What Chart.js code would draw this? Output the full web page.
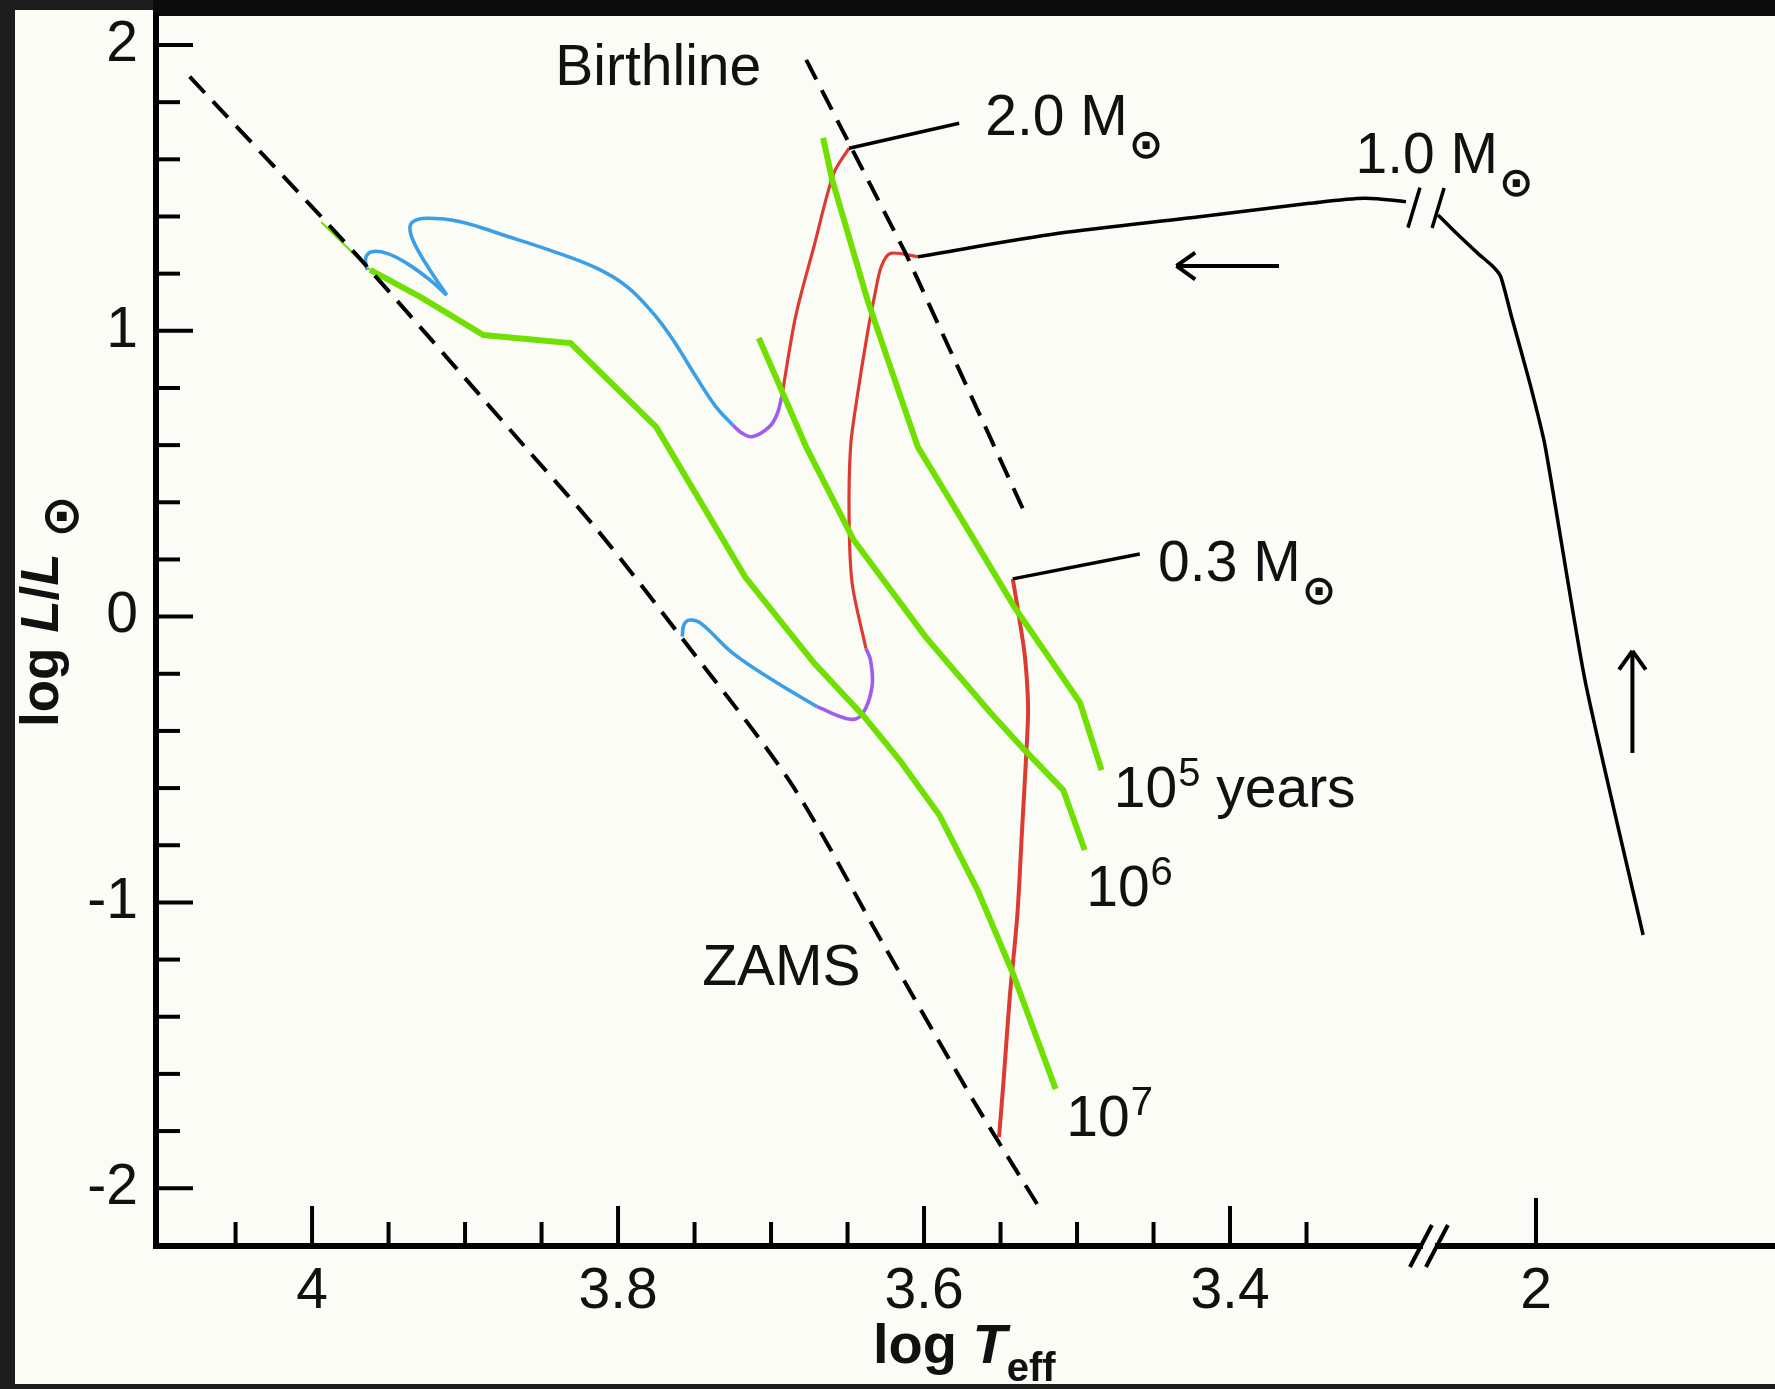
<!DOCTYPE html>
<html>
<head>
<meta charset="utf-8">
<script src="https://cdn.jsdelivr.net/npm/chart.js@4.4.0/dist/chart.umd.min.js"></script>
<style>
  html, body { margin: 0; padding: 0; background: #1d1d1d; }
  #wrap { width: 1775px; height: 1389px; }
</style>
</head>
<body>
<div id="wrap"><canvas id="hrChart" width="1775" height="1389"></canvas></div>
<script>
// log Teff left of the axis break is real; values right of it (< 3) are shifted by BREAK_SHIFT
const BREAK_SHIFT = 1.2;
const AXIS_BREAK = 3.27;

const xTickValues = [4, 3.8, 3.6, 3.4, 2];
const xTickLabels = ['4', '3.8', '3.6', '3.4', '2'];
const yTickValues = [2, 1, 0, -1, -2];
const yTickLabels = ['2', '1', '0', '-1', '-2'];

// zero-age main sequence and birthline
const zamsT = [4.080, 3.994, 3.964, 3.861, 3.812, 3.759, 3.687, 3.627, 3.568, 3.525];
const zamsL = [1.889, 1.399, 1.224, 0.595, 0.293, -0.070, -0.583, -1.143, -1.691, -2.065];
const birthT = [3.677, 3.649, 3.612, 3.534];
const birthL = [1.948, 1.656, 1.271, 0.361];

// 2.0 Msun track
const m20RedT = [3.649, 3.659, 3.672, 3.684, 3.693];
const m20RedL = [1.639, 1.551, 1.294, 1.049, 0.769];
const m20PurpleT = [3.693, 3.696, 3.701, 3.712, 3.719, 3.725];
const m20PurpleL = [0.769, 0.709, 0.665, 0.630, 0.642, 0.670];
const m20BlueT = [3.725, 3.736, 3.749, 3.764, 3.777, 3.794, 3.814, 3.842, 3.875, 3.903, 3.925, 3.934, 3.936, 3.932, 3.923, 3.912];
const m20BlueL = [0.670, 0.734, 0.839, 0.968, 1.061, 1.154, 1.219, 1.277, 1.335, 1.382, 1.394, 1.382, 1.353, 1.294, 1.213, 1.125];
const m20HookT = [3.912, 3.923, 3.938, 3.951, 3.961, 3.965, 3.964];
const m20HookL = [1.125, 1.178, 1.236, 1.271, 1.277, 1.254, 1.213];

// 1.0 Msun track (protostellar part in black, broken axis on the right)
const m10AccT = [3.604, 3.512, 3.420, 3.348, 3.312, 3.285];
const m10AccL = [1.259, 1.341, 1.399, 1.446, 1.464, 1.452];
const m10FarT = [2.064, 2.052, 2.038, 2.028, 2.023, 2.016, 2.004, 1.994, 1.968, 1.930];
const m10FarL = [1.405, 1.341, 1.271, 1.224, 1.189, 1.049, 0.816, 0.595, -0.222, -1.114];
const m10RedT = [3.604, 3.622, 3.628, 3.632, 3.637, 3.644, 3.648, 3.649, 3.647, 3.638];
const m10RedL = [1.259, 1.271, 1.224, 1.131, 0.991, 0.758, 0.595, 0.350, 0.117, -0.111];
const m10PurpleT = [3.638, 3.635, 3.634, 3.640, 3.648, 3.670];
const m10PurpleL = [-0.111, -0.152, -0.245, -0.338, -0.359, -0.315];
const m10BlueT = [3.670, 3.699, 3.725, 3.746, 3.753, 3.757, 3.758];
const m10BlueL = [-0.315, -0.222, -0.128, -0.023, -0.012, -0.029, -0.070];

// 0.3 Msun track
const m03RedT = [3.542, 3.538, 3.534, 3.532, 3.533, 3.536, 3.539, 3.544, 3.548, 3.551];
const m03RedL = [0.132, 0.002, -0.143, -0.317, -0.463, -0.753, -1.043, -1.333, -1.623, -1.821];

// isochrones
const iso5T = [3.666, 3.660, 3.637, 3.622, 3.604, 3.583, 3.570, 3.541, 3.498, 3.484];
const iso5L = [1.675, 1.528, 1.108, 0.873, 0.593, 0.408, 0.293, 0.034, -0.302, -0.537];
const iso6T = [3.708, 3.694, 3.677, 3.646, 3.599, 3.557, 3.535, 3.509, 3.495];
const iso6L = [0.975, 0.803, 0.593, 0.268, -0.071, -0.334, -0.463, -0.607, -0.817];
const iso7T = [3.962, 3.929, 3.888, 3.831, 3.775, 3.717, 3.672, 3.639, 3.616, 3.590, 3.565, 3.542, 3.514];
const iso7L = [1.213, 1.118, 0.985, 0.957, 0.663, 0.139, -0.162, -0.351, -0.502, -0.694, -0.957, -1.247, -1.653];
const iso7TailT = [3.994, 3.962];
const iso7TailL = [1.381, 1.213];

// annotations
const leader20T = [3.649, 3.577], leader20L = [1.639, 1.726];
const leader03T = [3.542, 3.459], leader03L = [0.132, 0.219];
const arrowAccT = [3.368, 3.435], arrowAccL = [1.227, 1.227];
const arrowRiseT = [1.937, 1.937], arrowRiseL = [-0.477, -0.120];

const plainLabels = [
  { text: 'Birthline', t: 3.841, l: 1.860 },
  { text: 'ZAMS', t: 3.745, l: -1.289 }
];
const massLabels = [
  { text: '2.0 M', t: 3.560, l: 1.685 },
  { text: '1.0 M', t: 3.318, l: 1.551 },
  { text: '0.3 M', t: 3.447, l: 0.125 }
];
const ageLabels = [
  { base: '10', exp: '5', tail: ' years', t: 3.476, l: -0.666 },
  { base: '10', exp: '6', tail: '', t: 3.494, l: -1.014 },
  { base: '10', exp: '7', tail: '', t: 3.507, l: -1.819 }
];

const FONT = '"Liberation Sans", Arial, sans-serif';
const GREEN = '#6fe000', RED = '#dc3b31', BLUE = '#3a9fe6', PURPLE = '#a05cf0';

function toX(t) { return t < 3 ? t + BREAK_SHIFT : t; }
function pts(T, L) { return T.map((t, i) => ({ x: toX(t), y: L[i] })); }

function series(T, L, color, width, order, extra) {
  return Object.assign({
    data: pts(T, L), borderColor: color, borderWidth: width, order: order,
    showLine: true, pointRadius: 0, fill: false, tension: 0
  }, extra || {});
}

const datasets = [
  series(zamsT, zamsL, '#000', 4, 0, { borderDash: [22, 12], tension: 0.3 }),
  series(birthT, birthL, '#000', 4, 0, { borderDash: [22, 12] }),
  series(m10AccT, m10AccL, '#000', 3.5, 1, { tension: 0.3 }),
  series(m10FarT, m10FarL, '#000', 3.5, 1, { tension: 0.2 }),
  series(iso5T, iso5L, GREEN, 6, 2),
  series(iso6T, iso6L, GREEN, 6, 2),
  series(iso7T, iso7L, GREEN, 6, 2),
  series(iso7TailT, iso7TailL, GREEN, 2, 3),
  series(m20RedT, m20RedL, RED, 3.2, 4, { tension: 0.3 }),
  series(m20PurpleT, m20PurpleL, PURPLE, 3.6, 4, { tension: 0.4 }),
  series(m20BlueT, m20BlueL, BLUE, 3.6, 4, { tension: 0.4 }),
  series(m20HookT, m20HookL, BLUE, 3.6, 4, { tension: 0.4 }),
  series(m10RedT, m10RedL, RED, 3.2, 4, { tension: 0.3 }),
  series(m10PurpleT, m10PurpleL, PURPLE, 3.6, 4, { tension: 0.4 }),
  series(m10BlueT, m10BlueL, BLUE, 3.6, 4, { tension: 0.4 }),
  series(m03RedT, m03RedL, RED, 4, 4, { tension: 0.3 })
];

// draws the sun symbol centred on (cx, cy) with a given ink diameter
function sun(ctx, cx, cy, diam, bold) {
  const wt = bold ? 'bold ' : '';
  ctx.font = wt + '100px "DejaVu Sans"';
  let m = ctx.measureText('\u2299');
  const size = 100 * diam / (m.actualBoundingBoxRight + m.actualBoundingBoxLeft);
  ctx.font = wt + size.toFixed(1) + 'px "DejaVu Sans"';
  m = ctx.measureText('\u2299');
  ctx.textAlign = 'left';
  ctx.textBaseline = 'alphabetic';
  const x = cx - (m.actualBoundingBoxRight - m.actualBoundingBoxLeft) / 2;
  const y = cy + (m.actualBoundingBoxAscent - m.actualBoundingBoxDescent) / 2;
  ctx.fillText('\u2299', x, y);
}

function seg(ctx, a, b) {
  ctx.beginPath();
  ctx.moveTo(a.x, a.y);
  ctx.lineTo(b.x, b.y);
  ctx.stroke();
}

function arrow(ctx, from, to) {
  seg(ctx, from, to);
  const ang = Math.atan2(to.y - from.y, to.x - from.x);
  [-1, 1].forEach(s => {
    const a = ang + Math.PI - s * 0.62;
    seg(ctx, to, { x: to.x + 23 * Math.cos(a), y: to.y + 23 * Math.sin(a) });
  });
}

const hrDecor = {
  id: 'hrDecor',
  beforeDraw(chart) {
    const { ctx, width, height, chartArea } = chart;
    ctx.save();
    ctx.fillStyle = '#1d1d1d';
    ctx.fillRect(0, 0, width, height);
    ctx.fillStyle = '#fcfcf7';
    ctx.fillRect(15, 10, width - 15, height - 15);
    ctx.fillStyle = '#0b0b0b';
    ctx.fillRect(chartArea.left - 3, 0, width, chartArea.top);
    ctx.restore();
  },
  afterDraw(chart) {
    const { ctx, chartArea } = chart;
    const xs = chart.scales.x, ys = chart.scales.y;
    const P = (t, l) => ({ x: xs.getPixelForValue(toX(t)), y: ys.getPixelForValue(l) });
    const left = chartArea.left, bottom = chartArea.bottom;

    ctx.save();
    ctx.strokeStyle = '#000';
    ctx.fillStyle = '#111';
    ctx.lineCap = 'butt';

    // inward ticks
    ctx.lineWidth = 4;
    for (let k = -10; k <= 10; k++) {
      const y = ys.getPixelForValue(k / 5);
      const len = k % 5 === 0 ? 37 : 24;
      seg(ctx, { x: left, y: y }, { x: left + len, y: y });
    }
    for (let k = 67; k <= 81; k++) {
      const x = xs.getPixelForValue(k * 0.05);
      const len = k % 4 === 0 ? 40 : 24;
      seg(ctx, { x: x, y: bottom }, { x: x, y: bottom - len });
    }
    const x2 = xs.getPixelForValue(toX(2));
    seg(ctx, { x: x2, y: bottom }, { x: x2, y: bottom - 48 });

    // axis break
    const bx = xs.getPixelForValue(AXIS_BREAK);
    ctx.fillStyle = '#fcfcf7';
    ctx.fillRect(bx - 6, bottom - 5, 12, 10);
    ctx.fillStyle = '#111';
    [-8, 8].forEach(d => seg(ctx, { x: bx + d - 11, y: bottom + 21 }, { x: bx + d + 11, y: bottom - 21 }));

    // break marks on the 1.0 Msun track
    ctx.lineWidth = 3.5;
    const a = P(m10AccT[m10AccT.length - 1], m10AccL[m10AccL.length - 1]);
    const b = P(m10FarT[0], m10FarL[0]);
    [{ x: a.x + 8, y: a.y + 6 }, { x: b.x, y: b.y - 7 }].forEach(c =>
      seg(ctx, { x: c.x - 6, y: c.y + 20 }, { x: c.x + 6, y: c.y - 20 }));

    // leader lines
    seg(ctx, P(leader20T[0], leader20L[0]), P(leader20T[1], leader20L[1]));
    seg(ctx, P(leader03T[0], leader03L[0]), P(leader03T[1], leader03L[1]));

    // direction arrows
    ctx.lineWidth = 4;
    arrow(ctx, P(arrowAccT[0], arrowAccL[0]), P(arrowAccT[1], arrowAccL[1]));
    arrow(ctx, P(arrowRiseT[0], arrowRiseL[0]), P(arrowRiseT[1], arrowRiseL[1]));

    // text labels
    ctx.textAlign = 'left';
    ctx.textBaseline = 'alphabetic';
    ctx.font = '57px ' + FONT;
    plainLabels.forEach(o => { const p = P(o.t, o.l); ctx.fillText(o.text, p.x, p.y); });

    massLabels.forEach(o => {
      const p = P(o.t, o.l);
      ctx.font = '57px ' + FONT;
      ctx.fillText(o.text, p.x, p.y);
      const w = ctx.measureText(o.text).width;
      sun(ctx, p.x + w + 18, p.y + 10, 27, true);
    });

    ageLabels.forEach(o => {
      const p = P(o.t, o.l);
      ctx.font = '57px ' + FONT;
      ctx.fillText(o.base, p.x, p.y);
      let x = p.x + ctx.measureText(o.base).width + 1;
      ctx.font = '40px ' + FONT;
      ctx.fillText(o.exp, x, p.y - 21);
      x += ctx.measureText(o.exp).width;
      if (o.tail) {
        ctx.font = '57px ' + FONT;
        ctx.fillText(o.tail, x, p.y);
      }
    });

    // x axis title: log T_eff
    let tx = 873;
    ctx.font = 'bold 56px ' + FONT;
    ctx.fillText('log ', tx, 1363);
    tx += ctx.measureText('log ').width;
    ctx.font = 'italic bold 56px ' + FONT;
    ctx.fillText('T', tx, 1363);
    tx += ctx.measureText('T').width;
    ctx.font = 'bold 40px ' + FONT;
    ctx.fillText('eff', tx, 1381);

    // y axis title: log L/L_sun, rotated
    ctx.translate(58, 727);
    ctx.rotate(-Math.PI / 2);
    let ty = 0;
    [['log ', 'bold'], ['L', 'italic bold'], ['/', 'bold'], ['L', 'italic bold'], [' ', 'bold']].forEach(([s, st]) => {
      ctx.font = st + ' 53px ' + FONT;
      ctx.fillText(s, ty, 0);
      ty += ctx.measureText(s).width;
    });
    sun(ctx, ty + 22, 3, 34, true);
    ctx.restore();
  }
};

new Chart(document.getElementById('hrChart'), {
  type: 'scatter',
  data: { datasets: datasets },
  options: {
    responsive: false,
    animation: false,
    devicePixelRatio: 1,
    layout: { padding: { left: 15, top: 16, right: 0, bottom: 5 } },
    plugins: { legend: { display: false }, tooltip: { enabled: false } },
    scales: {
      x: {
        type: 'linear',
        reverse: true,
        min: 3.0438,
        max: 4.1020,
        afterBuildTicks: s => { s.ticks = xTickValues.map(v => ({ value: toX(v) })); },
        afterFit: s => { s.height = 138; s.paddingLeft = 0; s.paddingRight = 0; },
        grid: { display: false, drawTicks: false },
        border: { display: true, color: '#000', width: 6 },
        ticks: {
          autoSkip: false, maxRotation: 0, padding: 12, color: '#111',
          font: { family: FONT, size: 57 },
          callback: (v, i) => xTickLabels[i]
        }
      },
      y: {
        type: 'linear',
        min: -2.2022,
        max: 2.1015,
        afterBuildTicks: s => { s.ticks = yTickValues.map(v => ({ value: v })); },
        afterFit: s => { s.width = 141; s.paddingTop = 0; s.paddingBottom = 0; },
        grid: { display: false, drawTicks: false },
        border: { display: true, color: '#000', width: 6 },
        ticks: {
          autoSkip: false, padding: 18, color: '#111',
          font: { family: FONT, size: 57 },
          callback: (v, i) => yTickLabels[i]
        }
      }
    }
  },
  plugins: [hrDecor]
});
</script>
</body>
</html>
